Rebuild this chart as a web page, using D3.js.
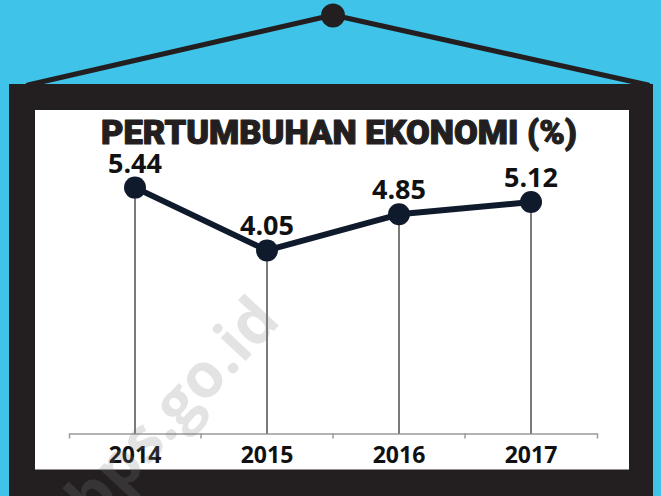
<!DOCTYPE html>
<html>
<head>
<meta charset="utf-8">
<script src="https://cdn.jsdelivr.net/npm/d3@7"></script>
<style>
  html, body { margin: 0; padding: 0; background: #3fc3e8; }
  svg { display: block; }
</style>
</head>
<body>
<svg id="chart" width="661" height="496"></svg>
<script>
// ---- data ----
const years = ["2014", "2015", "2016", "2017"];
const growth = [5.44, 4.05, 4.85, 5.12];
const valueLabels = ["5.44", "4.05", "4.85", "5.12"];
const titleText = "PERTUMBUHAN EKONOMI (%)";
const watermarkText = "bps.go.id";

const W = 661, H = 496;
const svg = d3.select("#chart");

// background
svg.append("rect").attr("width", W).attr("height", H).attr("fill", "#3fc3e8");

// hanging strings + nail
const nail = {x: 333, y: 15};
const strings = svg.append("g").attr("stroke", "#231f20").attr("stroke-width", 5)
  .attr("stroke-linecap", "round");
strings.append("line").attr("x1", nail.x).attr("y1", nail.y).attr("x2", 28).attr("y2", 85);
strings.append("line").attr("x1", nail.x).attr("y1", nail.y).attr("x2", 648).attr("y2", 85);
svg.append("circle").attr("cx", nail.x).attr("cy", nail.y + 0.5).attr("r", 12).attr("fill", "#231f20");

// frame
svg.append("rect").attr("x", 9).attr("y", 84).attr("width", 644).attr("height", 430).attr("fill", "#231f20");
svg.append("rect").attr("x", 35).attr("y", 110).attr("width", 594).attr("height", 359.5).attr("fill", "#ffffff");

// title
svg.append("text")
  .attr("x", 339).attr("y", 144)
  .attr("text-anchor", "middle")
  .attr("font-family", "Roboto, Inter, 'Noto Sans', sans-serif")
  .attr("font-weight", 900)
  .attr("font-size", 33)
  .attr("fill", "#231f20")
  .attr("stroke", "#231f20")
  .attr("stroke-width", 1.1)
  .attr("stroke-linejoin", "round")
  .attr("textLength", 476)
  .attr("lengthAdjust", "spacingAndGlyphs")
  .text(titleText);

// scales
const x = d3.scaleBand().domain(years).range([69, 597]).padding(0);
const y = d3.scaleLinear().domain([0, 6]).range([433.5, 162.3]);

// axis
const axis = svg.append("g")
  .attr("transform", `translate(0,${y(0)})`)
  .call(d3.axisBottom(x).tickSize(0).tickSizeOuter(5).tickPadding(0));
axis.select(".domain").attr("stroke", "#9a9a9a").attr("stroke-width", 1.5);
axis.selectAll("text")
  .attr("y", 29).attr("dy", 0)
  .attr("fill", "#111")
  .attr("font-family", "'Open Sans', sans-serif")
  .attr("font-weight", 700)
  .attr("font-size", 23);
// boundary ticks between bands
axis.selectAll(".btick").data(years.slice(1)).enter().append("line")
  .attr("class", "btick")
  .attr("x1", d => x(d)).attr("x2", d => x(d))
  .attr("y1", 0).attr("y2", 5)
  .attr("stroke", "#9a9a9a").attr("stroke-width", 1.5);

const pts = years.map((yr, i) => ({yr, v: growth[i], label: valueLabels[i]}));
const cx = d => x(d.yr) + x.bandwidth() / 2;

// drop lines
svg.append("g").selectAll("line").data(pts).enter().append("line")
  .attr("x1", cx).attr("x2", cx)
  .attr("y1", d => y(d.v)).attr("y2", y(0))
  .attr("stroke", "#333").attr("stroke-width", 1.3);

// main line
svg.append("path").datum(pts)
  .attr("fill", "none")
  .attr("stroke", "#0f1b2d")
  .attr("stroke-width", 6)
  .attr("stroke-linejoin", "round")
  .attr("d", d3.line().x(cx).y(d => y(d.v)));

// markers
svg.append("g").selectAll("circle").data(pts).enter().append("circle")
  .attr("cx", cx).attr("cy", d => y(d.v)).attr("r", 11)
  .attr("fill", "#0f1b2d");

// value labels
svg.append("g").selectAll("text").data(pts).enter().append("text")
  .attr("x", cx).attr("y", d => y(d.v) - 15)
  .attr("text-anchor", "middle")
  .attr("font-family", "'Open Sans', sans-serif")
  .attr("font-weight", 700)
  .attr("font-size", 27)
  .attr("fill", "#111")
  .text(d => d.label);

// watermark
svg.append("text")
  .attr("transform", "translate(282,322) rotate(-47)")
  .attr("text-anchor", "end")
  .attr("font-family", "'Open Sans', sans-serif")
  .attr("font-weight", 700)
  .attr("font-size", 62)
  .attr("fill", "#808080")
  .attr("fill-opacity", 0.22)
  .text(watermarkText);
</script>
</body>
</html>
